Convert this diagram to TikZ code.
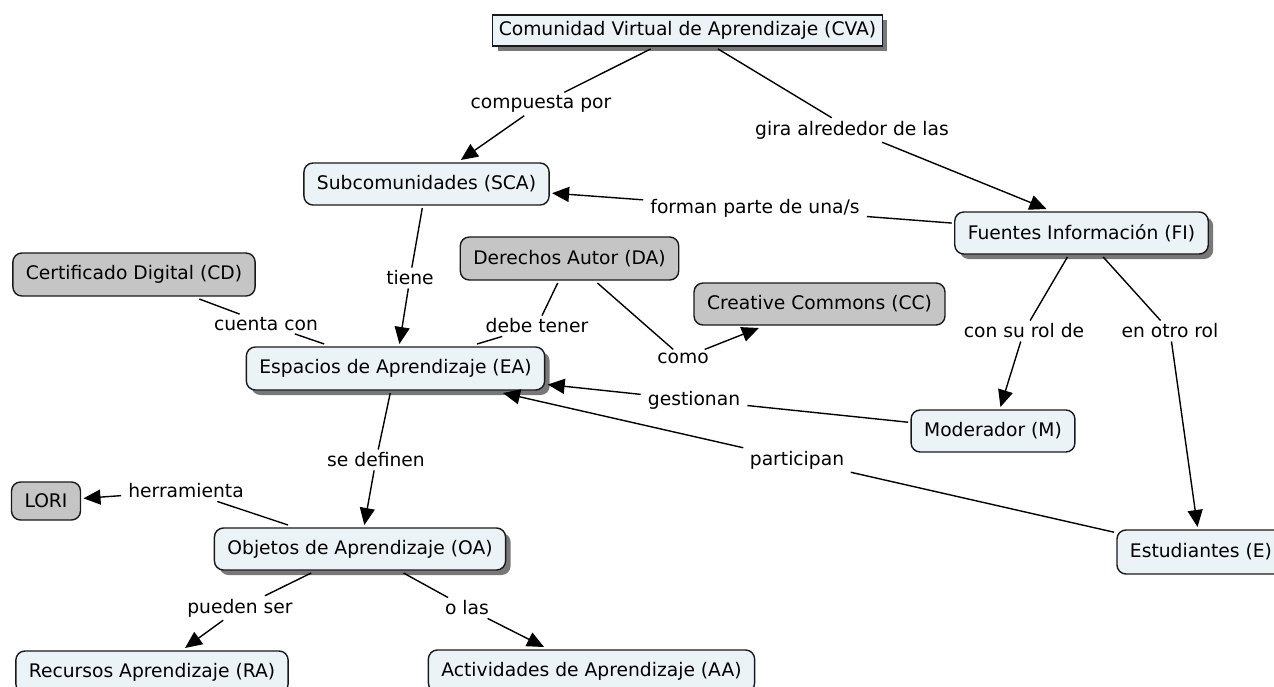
\documentclass[tikz,border=0pt]{standalone}
\usepackage{fontspec}
\setmainfont{DejaVu Sans}
\usetikzlibrary{arrows.meta,shadows}

\definecolor{conceptfill}{RGB}{236,243,246}
\definecolor{greyfill}{RGB}{197,197,197}
\definecolor{shadowgrey}{RGB}{120,120,120}
\definecolor{inkline}{RGB}{25,25,25}

\tikzset{
  every node/.style={font=\fontsize{18.7}{22}\selectfont},
  concept/.style={draw=inkline, line width=1.4pt, rounded corners=9pt,
    fill=conceptfill, inner xsep=13pt, inner ysep=0pt,
    minimum height=42pt, outer sep=3pt, text=black},
  grey concept/.style={concept, fill=greyfill},
  raised/.style={drop shadow={shadow xshift=5pt, shadow yshift=-5pt,
    fill=shadowgrey, opacity=1}},
  linkword/.style={inner xsep=7pt, inner ysep=3pt, text=black},
  link/.style={draw=black, line width=1.4pt},
  linkto/.style={link, -{Triangle[length=17pt,width=15pt]}},
}

\begin{document}
\begin{tikzpicture}[x=1pt,y=-1pt]
  \clip (0,0) rectangle (1274,686);

  % concepts
  \node[concept, raised, sharp corners, inner xsep=6pt, minimum height=31pt]
    (cva) at (687.5,30.5) {Comunidad Virtual de Aprendizaje (CVA)};
  \node[concept] (sca) at (426.5,184) {Subcomunidades (SCA)};
  \node[concept, raised] (fi) at (1081.5,233) {Fuentes Información (FI)};
  \node[grey concept, minimum height=43pt] (cd) at (134,274.5) {Certificado Digital (CD)};
  \node[grey concept, minimum height=43pt] (da) at (569.5,258.5) {Derechos Autor (DA)};
  \node[grey concept] (cc) at (819.5,304) {Creative Commons (CC)};
  \node[concept, raised, minimum height=43pt] (ea) at (395.5,368.5) {Espacios de Aprendizaje (EA)};
  \node[concept] (mod) at (993,431) {Moderador (M)};
  \node[concept, minimum height=44pt] (est) at (1201,552) {Estudiantes (E)};
  \node[grey concept, minimum height=38pt] (lori) at (46,501) {LORI};
  \node[concept, raised] (oa) at (360,549) {Objetos de Aprendizaje (OA)};
  \node[concept] (ra) at (152,672) {Recursos Aprendizaje (RA)};
  \node[concept] (aa) at (591.5,671) {Actividades de Aprendizaje (AA)};

  % linking phrases
  \node[linkword] (l1) at (541,104) {compuesta por};
  \node[linkword] (l2) at (852,130) {gira alrededor de las};
  \node[linkword] (l3) at (755,208) {forman parte de una/s};
  \node[linkword] (l4) at (410,278) {tiene};
  \node[linkword] (l5) at (266,324) {cuenta con};
  \node[linkword] (l6) at (537,326) {debe tener};
  \node[linkword] (l7) at (683,358) {como};
  \node[linkword] (l8) at (1024,331) {con su rol de};
  \node[linkword] (l9) at (1170,331) {en otro rol};
  \node[linkword] (l10) at (694,400) {gestionan};
  \node[linkword] (l11) at (797,460) {participan};
  \node[linkword] (l12) at (376,460) {se definen};
  \node[linkword] (l13) at (186,491) {herramienta};
  \node[linkword] (l14) at (240,608) {pueden ser};
  \node[linkword] (l15) at (467,608) {o las};

  % links
  \draw[link] (cva) -- (l1);
  \draw[linkto] (l1) -- (sca);
  \draw[link] (cva) -- (l2);
  \draw[linkto] (l2) -- ([xshift=-35pt]fi.north);
  \draw[link] (fi) -- (l3);
  \draw[linkto] (l3) -- (sca);
  \draw[link] (sca) -- (l4);
  \draw[linkto] (l4) -- (ea);
  \draw[link] (cd) -- (l5);
  \draw[link] (l5) -- (ea);
  \draw[link] (da) -- (l6);
  \draw[link] (l6) -- (ea);
  \draw[link] (da) -- (l7);
  \draw[linkto] (l7) -- (cc);
  \draw[link] (fi) -- (l8);
  \draw[linkto] (l8) -- (mod);
  \draw[link] (fi) -- (l9);
  \draw[linkto] (l9) -- (est);
  \draw[link] (mod) -- (l10);
  \draw[linkto] (l10) -- (ea);
  \draw[link] (est) -- (l11);
  \draw[linkto] (l11) -- (ea);
  \draw[link] (ea) -- (l12);
  \draw[linkto] (l12) -- (oa);
  \draw[link] (oa) -- (l13);
  \draw[linkto] (l13) -- (lori);
  \draw[link] (oa) -- (l14);
  \draw[linkto] (l14) -- (ra);
  \draw[link] (oa) -- (l15);
  \draw[linkto] (l15) -- (aa);
\end{tikzpicture}
\end{document}
